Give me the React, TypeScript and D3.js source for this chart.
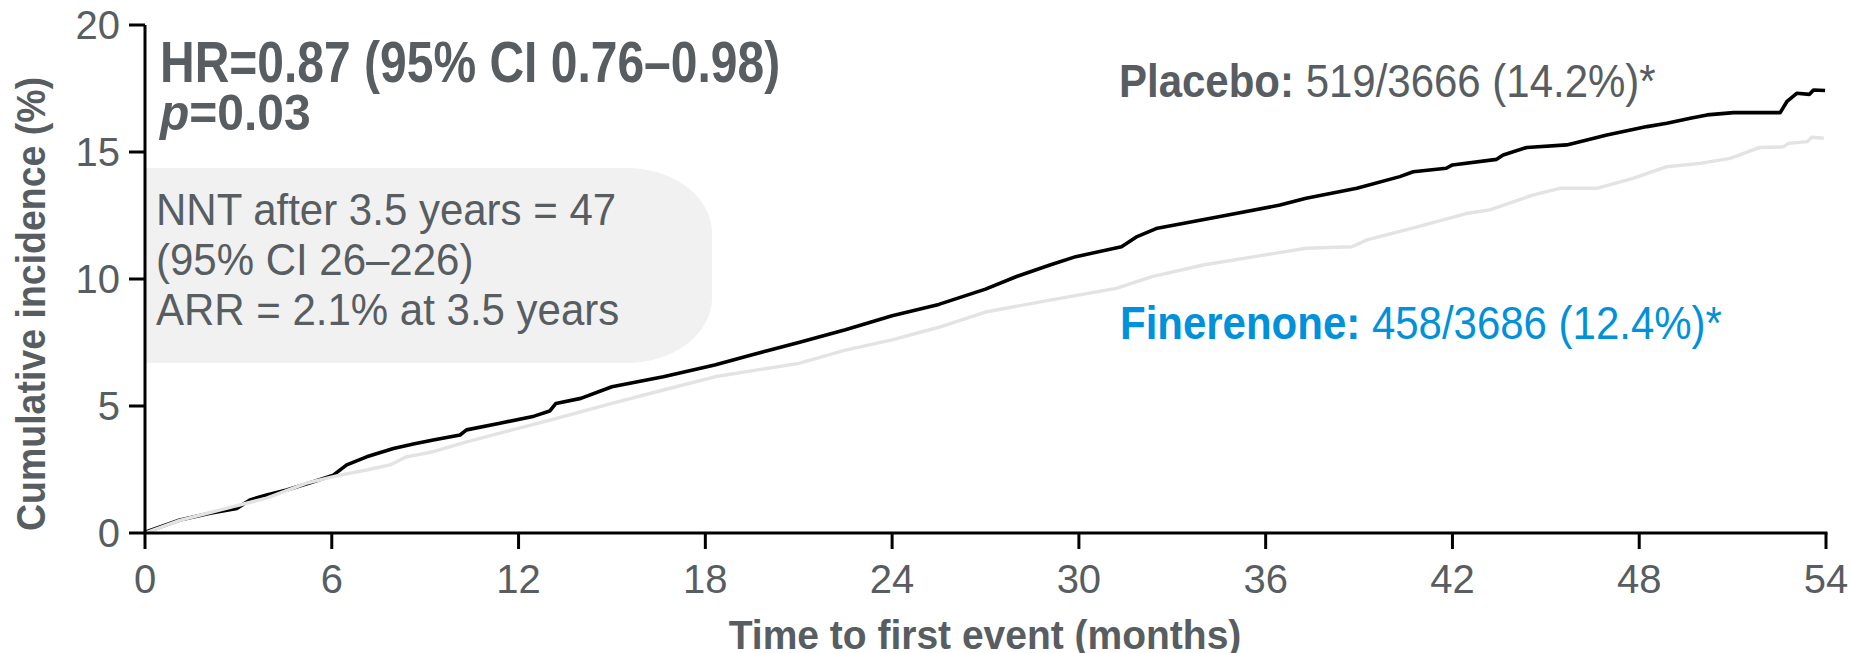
import React from "react";
import * as d3 from "d3";

const xTicks = [0, 6, 12, 18, 24, 30, 36, 42, 48, 54];
const yTicks = [0, 5, 10, 15, 20];

const placeboMonths = [0, 0.05, 1.12, 2.09, 2.95, 3.37, 3.91, 4.55, 5.41, 6.05, 6.48, 7.12, 7.98, 8.62, 9.26, 10.12, 10.33, 11.4, 12.5, 13.0, 13.2, 14.0, 15, 16.65, 18.3, 19.45, 21, 22.5, 24, 25.5, 27, 28, 29.07, 29.9, 31.37, 31.87, 32.52, 34.49, 36.46, 37.3, 38.93, 40.31, 40.74, 41.8, 42.0, 43.42, 43.63, 44.39, 45.67, 46.32, 46.96, 48.25, 48.89, 49.64, 50.18, 51.03, 52.53, 52.74, 53.06, 53.47, 53.6, 53.97];
const placeboValues = [0, 0.05, 0.51, 0.78, 0.97, 1.3, 1.5, 1.69, 2.02, 2.28, 2.68, 3.0, 3.33, 3.5, 3.66, 3.86, 4.06, 4.32, 4.6, 4.8, 5.1, 5.3, 5.76, 6.15, 6.61, 7.0, 7.5, 8.0, 8.55, 9.0, 9.6, 10.1, 10.55, 10.88, 11.27, 11.67, 12.0, 12.45, 12.91, 13.18, 13.57, 14.03, 14.22, 14.36, 14.49, 14.71, 14.88, 15.18, 15.28, 15.47, 15.67, 16.0, 16.13, 16.33, 16.46, 16.55, 16.55, 16.98, 17.31, 17.27, 17.44, 17.42];

const fineMonths = [0, 1.12, 2.83, 3.91, 5.19, 6.26, 7.12, 7.87, 8.4, 9.26, 10.33, 11.4, 13.04, 15, 16.65, 18.3, 21, 22.5, 24, 25.5, 27, 29.07, 31.2, 32.35, 33.99, 35.64, 37.3, 38.77, 39.26, 40.9, 42.5, 43.2, 44.6, 45.45, 46.63, 47.8, 48.89, 49.96, 50.92, 51.88, 52.62, 52.8, 53.4, 53.54, 53.93];
const fineValues = [0, 0.5, 1.04, 1.37, 1.96, 2.28, 2.48, 2.68, 3.0, 3.2, 3.59, 3.93, 4.45, 5.1, 5.63, 6.15, 6.68, 7.2, 7.6, 8.1, 8.7, 9.17, 9.63, 10.09, 10.55, 10.88, 11.21, 11.27, 11.54, 12.06, 12.59, 12.72, 13.31, 13.57, 13.57, 13.96, 14.42, 14.55, 14.75, 15.18, 15.2, 15.34, 15.41, 15.58, 15.54];

const TEXT = "#575d61";
const BLUE = "#0091da";
const FONT = "'Liberation Sans', Arial, Helvetica, sans-serif";

function T({ x, y, k = 1, rotate = 0, children, ...rest }: any) {
  return (
    <g transform={`translate(${x},${y}) rotate(${rotate}) scale(1,${k})`}>
      <text x={0} y={0} {...rest}>{children}</text>
    </g>
  );
}

export default function App() {
  const W = 1852, H = 653;
  const x = d3.scaleLinear().domain([0, 54]).range([145, 1826]);
  const y = d3.scaleLinear().domain([0, 20]).range([533, 25]);
  const line = d3.line<[number, number]>().x(d => x(d[0])).y(d => y(d[1])).curve(d3.curveLinear);
  const placebo = placeboMonths.map((m, i) => [m, placeboValues[i]] as [number, number]);
  const fine = fineMonths.map((m, i) => [m, fineValues[i]] as [number, number]);

  const bx0 = 146, bx1 = 712, by0 = 168, by1 = 363, rx = 85, ry = 65;
  const boxPath = `M${bx0},${by0} L${bx1 - rx},${by0} A${rx},${ry} 0 0 1 ${bx1},${by0 + ry} L${bx1},${by1 - ry} A${rx},${ry} 0 0 1 ${bx1 - rx},${by1} L${bx0},${by1} Z`;

  return (
    <svg width={W} height={H} style={{ position: "absolute", left: 0, top: 0, background: "#fff" }} fontFamily={FONT}>
      <path d={boxPath} fill="#f1f1f1" />
      <g fill={TEXT} fontSize={42}>
        <T x={156} y={225} k={1.05}>NNT after 3.5 years = 47</T>
        <T x={156} y={275} k={1.05}>(95% CI 26–226)</T>
        <T x={156} y={325} k={1.05}>ARR = 2.1% at 3.5 years</T>
      </g>
      <g fill={TEXT} fontSize={48} fontWeight="bold">
        <T x={160} y={82} k={1.2}>HR=0.87 (95% CI 0.76–0.98)</T>
        <T x={160} y={130} k={1.05}><tspan fontStyle="italic">p</tspan>=0.03</T>
      </g>
      <T x={1119} y={97} k={1.1} fontSize={42} fill={TEXT}>
        <tspan fontWeight="bold">Placebo:</tspan> 519/3666 (14.2%)*
      </T>
      <T x={1120} y={339} k={1.1} fontSize={42} fill={BLUE}>
        <tspan fontWeight="bold">Finerenone:</tspan> 458/3686 (12.4%)*
      </T>

      <path d={line(placebo) || ""} fill="none" stroke="#000" strokeWidth={3.6} strokeLinejoin="round" />
      <path d={line(fine) || ""} fill="none" stroke="#e3e3e3" strokeWidth={3.4} strokeLinejoin="round" />

      <g stroke="#000" strokeWidth={3}>
        <line x1={x(0)} x2={x(0)} y1={y(20)} y2={y(0)} />
        <line x1={x(0) - 1.5} x2={x(54) + 1.5} y1={y(0)} y2={y(0)} />
        {yTicks.map(t => <line key={"yt" + t} x1={x(0) - 16} x2={x(0)} y1={y(t)} y2={y(t)} />)}
        {xTicks.map(t => <line key={"xt" + t} x1={x(t)} x2={x(t)} y1={y(0)} y2={y(0) + 16} />)}
      </g>
      <g fill={TEXT} fontSize={40}>
        {yTicks.map(t => <text key={"yl" + t} x={120} y={y(t) + 14} textAnchor="end">{t}</text>)}
        {xTicks.map(t => <text key={"xl" + t} x={x(t)} y={593} textAnchor="middle">{t}</text>)}
      </g>
      <T x={985} y={649} k={1.05} textAnchor="middle" fontSize={39} fontWeight="bold" fill={TEXT}>Time to first event (months)</T>
      <T x={45} y={531} rotate={-90} k={1.1} textAnchor="start" fontSize={37.5} fontWeight="bold" fill={TEXT}>Cumulative incidence (%)</T>
    </svg>
  );
}
